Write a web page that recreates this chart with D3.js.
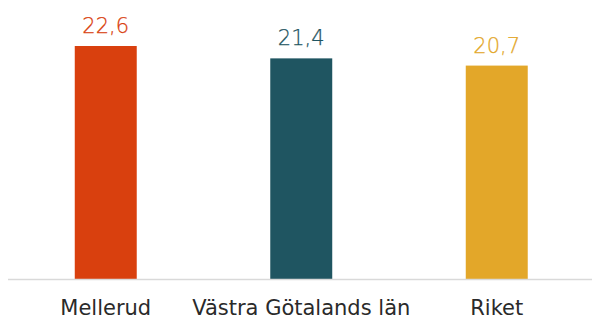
<!DOCTYPE html>
<html><head><meta charset="utf-8">
<script src="https://cdn.jsdelivr.net/npm/d3@7"></script>
<style>body{margin:0;background:#fff}svg{display:block}</style>
</head><body>
<svg id="c" width="592" height="320"></svg>
<script>
const categories = ["Mellerud", "Västra Götalands län", "Riket"];
const values = [22.6, 21.4, 20.7];
const valueLabels = ["22,6", "21,4", "20,7"];
const colors = ["#D9400E", "#1F5561", "#E3A729"];

const svg = d3.select("#c");
const baseY = 279, topY = 46;
const x = d3.scaleBand().domain(categories).range([8, 594.5]).paddingInner(0.683).paddingOuter(0.3415);
const y = d3.scaleLinear().domain([0, 22.6]).range([baseY, topY]);

svg.selectAll("rect.bar").data(values).join("rect")
  .attr("class","bar")
  .attr("x",(d,i)=>x(categories[i]))
  .attr("width",x.bandwidth())
  .attr("y",d=>y(d))
  .attr("height",d=>baseY-y(d))
  .attr("fill",(d,i)=>colors[i]);

svg.append("line").attr("x1",8).attr("x2",592).attr("y1",baseY+0.5).attr("y2",baseY+0.5)
  .attr("stroke","#d9d9d9").attr("stroke-width",1.5);

svg.selectAll("text.val").data(values).join("text")
  .attr("class","val")
  .attr("x",(d,i)=>x(categories[i])+x.bandwidth()/2)
  .attr("y",d=>y(d)-13)
  .attr("text-anchor","middle")
  .attr("font-family","'DejaVu Sans', sans-serif")
  .attr("font-weight",200)
  .attr("font-size",21)
  .attr("fill",(d,i)=>colors[i])
  .attr("stroke",(d,i)=>colors[i])
  .attr("stroke-width",0.25)
  .text((d,i)=>valueLabels[i]);

const xAxis = d3.axisBottom(x).tickSize(0).tickPadding(0);
const g = svg.append("g").attr("transform",`translate(0,${baseY})`).call(xAxis);
g.select(".domain").remove();
g.selectAll("text").attr("font-family","'DejaVu Sans', sans-serif").attr("font-size",21)
  .attr("fill","#2a2a2a").attr("dy",0).attr("y",36);
</script>
</body></html>
